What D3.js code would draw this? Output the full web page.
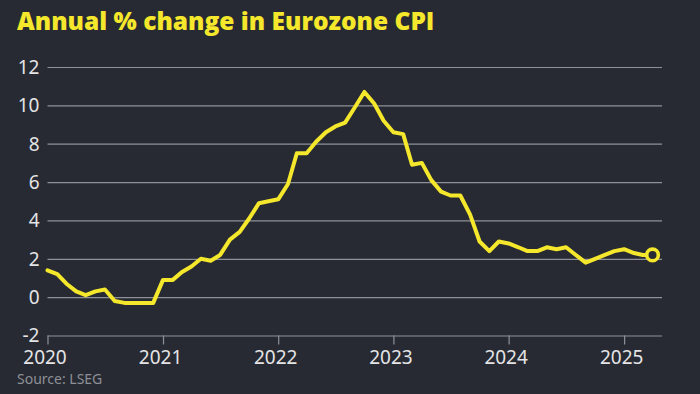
<!DOCTYPE html>
<html>
<head>
<meta charset="utf-8">
<script src="https://cdn.jsdelivr.net/npm/d3@7"></script>
<style>
  html, body { margin: 0; padding: 0; background: #272a32; }
  svg { display: block; }
</style>
</head>
<body>
<svg id="chart" width="700" height="394"></svg>
<script>
// Annual % change in Eurozone CPI, monthly, Jan 2020 - Apr 2025
var firstMonth = '2020-01';
var cpi2020 = [1.4, 1.2, 0.7, 0.3, 0.1, 0.3, 0.4, -0.2, -0.3, -0.3, -0.3, -0.3];
var cpi2021 = [0.9, 0.9, 1.3, 1.6, 2.0, 1.9, 2.2, 3.0, 3.4, 4.1, 4.9, 5.0];
var cpi2022 = [5.1, 5.9, 7.5, 7.5, 8.1, 8.6, 8.9, 9.1, 9.9, 10.7, 10.1, 9.2];
var cpi2023 = [8.6, 8.5, 6.9, 7.0, 6.1, 5.5, 5.3, 5.3, 4.3, 2.9, 2.4, 2.9];
var cpi2024 = [2.8, 2.6, 2.4, 2.4, 2.6, 2.5, 2.6, 2.2, 1.8, 2.0, 2.2, 2.4];
var cpi2025 = [2.5, 2.3, 2.2, 2.2];

var yTicks = [-2, 0, 2, 4, 6, 8, 10, 12];
var xTickYears = ['2020', '2021', '2022', '2023', '2024', '2025'];

var titleText = 'Annual % change in Eurozone CPI';
var sourceText = 'Source: LSEG';

var values = [].concat(cpi2020, cpi2021, cpi2022, cpi2023, cpi2024, cpi2025);
var parseMonth = d3.timeParse('%Y-%m');
var start = parseMonth(firstMonth);
var data = values.map(function (v, i) {
    return { date: d3.timeMonth.offset(start, i), value: v };
});

var svg = d3.select('#chart');

// plot box (window.top is reserved, so prefixed names)
var plotLeft = 47.5, plotRight = 662;
var plotTop = 67, plotBottom = 335.5;

var x = d3.scaleTime()
    .domain([start, new Date(2025, 4, 1)])
    .range([plotLeft, plotRight]);

var y = d3.scaleLinear()
    .domain([-2, 12])
    .range([plotBottom, plotTop]);

var yellow = '#f4e72c';
var bg = '#272a32';
var tickFont = '"Noto Sans", sans-serif';

// title
svg.append('text')
    .attr('x', 17)
    .attr('y', 30)
    .attr('fill', yellow)
    .style('font-family', '"Open Sans", sans-serif')
    .style('font-weight', 800)
    .style('font-size', '24.5px')
    .text(titleText);

// horizontal grid + y labels
var yAxis = svg.append('g')
    .attr('class', 'y-axis')
    .attr('transform', 'translate(' + plotLeft + ',0)')
    .call(d3.axisLeft(y).tickValues(yTicks).tickSize(-(plotRight - plotLeft)).tickPadding(8).tickFormat(d3.format('d')));

yAxis.select('.domain').remove();
yAxis.selectAll('.tick line')
    .attr('stroke', '#8e9198')
    .attr('stroke-width', 1.2);
yAxis.selectAll('.tick text')
    .attr('fill', '#e4e4e6')
    .attr('dy', '0.34em')
    .style('font-family', tickFont)
    .style('font-size', '19px')
    .text(function (d) { return d < 0 ? '-' + Math.abs(d) : d; });

// x axis tick marks and labels
var xAxis = svg.append('g')
    .attr('class', 'x-axis')
    .attr('transform', 'translate(0,' + plotBottom + ')')
    .call(d3.axisBottom(x)
        .tickValues(xTickYears.map(function (yr) { return new Date(+yr, 0, 1); }))
        .tickSize(9)
        .tickPadding(6)
        .tickFormat(d3.timeFormat('%Y')));

xAxis.select('.domain').remove();
xAxis.selectAll('.tick line')
    .attr('stroke', '#8e9198')
    .attr('stroke-width', 1.2);
xAxis.selectAll('.tick text')
    .attr('fill', '#e4e4e6')
    .attr('dx', '-3px')
    .style('font-family', tickFont)
    .style('font-size', '19px');

// line
var line = d3.line()
    .x(function (d) { return x(d.date); })
    .y(function (d) { return y(d.value); });

svg.append('path')
    .datum(data)
    .attr('d', line)
    .attr('fill', 'none')
    .attr('stroke', yellow)
    .attr('stroke-width', 4)
    .attr('stroke-linejoin', 'round')
    .attr('stroke-linecap', 'round');

// end marker
var last = data[data.length - 1];
svg.append('circle')
    .attr('cx', x(last.date))
    .attr('cy', y(last.value))
    .attr('r', 5.8)
    .attr('fill', bg)
    .attr('stroke', yellow)
    .attr('stroke-width', 3.6);

// source
svg.append('text')
    .attr('x', 17)
    .attr('y', 384)
    .attr('fill', '#8d9096')
    .style('font-family', tickFont)
    .style('font-size', '14px')
    .text(sourceText);
</script>
</body>
</html>
